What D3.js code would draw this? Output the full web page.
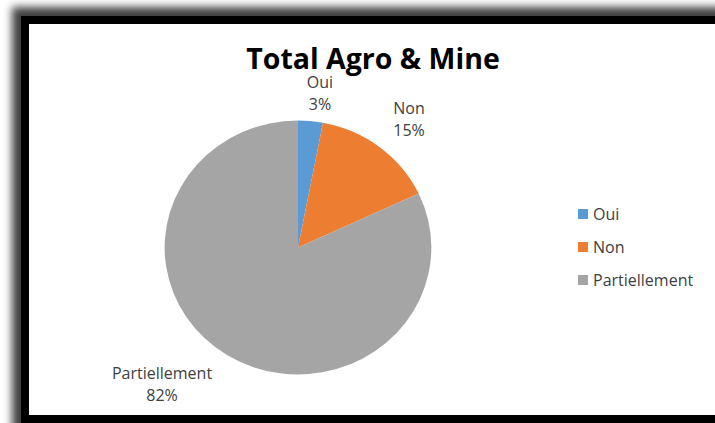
<!DOCTYPE html>
<html>
<head>
<meta charset="utf-8">
<script src="https://cdn.jsdelivr.net/npm/d3@7"></script>
<style>
  body { margin: 0; background: #fff; }
  svg { display: block; }
</style>
</head>
<body>
<script>
const categories = ["Oui", "Non", "Partiellement"];
const values = [3, 15, 82];
const colors = ["#5B9BD5", "#ED7D31", "#A5A5A5"];
const title = "Total Agro & Mine";

const W = 715, H = 423;
const svg = d3.select("body").append("svg")
    .attr("width", W)
    .attr("height", H);

// shadow + black frame
const defs = svg.append("defs");
defs.append("filter").attr("id", "blur")
    .attr("x", "-10%").attr("y", "-10%").attr("width", "120%").attr("height", "120%")
  .append("feGaussianBlur").attr("stdDeviation", 4.5);

svg.append("rect")
    .attr("x", 12).attr("y", 7)
    .attr("width", 760).attr("height", 460)
    .attr("fill", "#000").attr("opacity", 0.75)
    .attr("filter", "url(#blur)");

svg.append("rect")
    .attr("x", 21).attr("y", 16)
    .attr("width", 740).attr("height", 440)
    .attr("fill", "#000");

svg.append("rect")
    .attr("x", 29).attr("y", 24)
    .attr("width", 724).attr("height", 391)
    .attr("fill", "#fff");

svg.append("text")
    .attr("x", 373).attr("y", 69)
    .attr("text-anchor", "middle")
    .attr("font-family", "'Open Sans', sans-serif")
    .attr("font-weight", "bold")
    .attr("font-size", 28.5)
    .attr("fill", "#000")
    .text(title);

// pie (slightly stretched horizontally like the reference)
const cx = 298, cy = 247.5, r = 127, sx = 1.05;
const pie = d3.pie().sort(null).value(d => d)(values);
const arc = d3.arc().innerRadius(0).outerRadius(r);

const g = svg.append("g")
    .attr("transform", `translate(${cx},${cy}) scale(${sx},1)`);

g.selectAll("path")
    .data(pie)
    .join("path")
    .attr("d", arc)
    .attr("fill", (d, i) => colors[i]);

// data labels
const labelPos = [[320, 83], [409, 109], [162, 374]];
const lbl = svg.append("g")
    .attr("font-family", "'Open Sans', sans-serif")
    .attr("font-size", 16)
    .attr("fill", "#404040")
    .attr("text-anchor", "middle");

pie.forEach((d, i) => {
  const t = lbl.append("text")
      .attr("x", labelPos[i][0]).attr("y", labelPos[i][1] + 5);
  t.append("tspan").attr("x", labelPos[i][0]).text(categories[i]);
  t.append("tspan").attr("x", labelPos[i][0]).attr("dy", 22)
      .text(d3.format(".0%")(d.data / d3.sum(values)));
});

// legend
const legend = svg.append("g")
    .attr("transform", "translate(578,214)")
    .attr("font-family", "'Open Sans', sans-serif")
    .attr("font-size", 16)
    .attr("fill", "#404040");

const item = legend.selectAll("g")
    .data(categories)
    .join("g")
    .attr("transform", (d, i) => `translate(0,${i * 33})`);

item.append("rect")
    .attr("x", 0).attr("y", -5)
    .attr("width", 10).attr("height", 10)
    .attr("fill", (d, i) => colors[i]);

item.append("text")
    .attr("x", 15).attr("y", 5.5)
    .text(d => d);
</script>
</body>
</html>
